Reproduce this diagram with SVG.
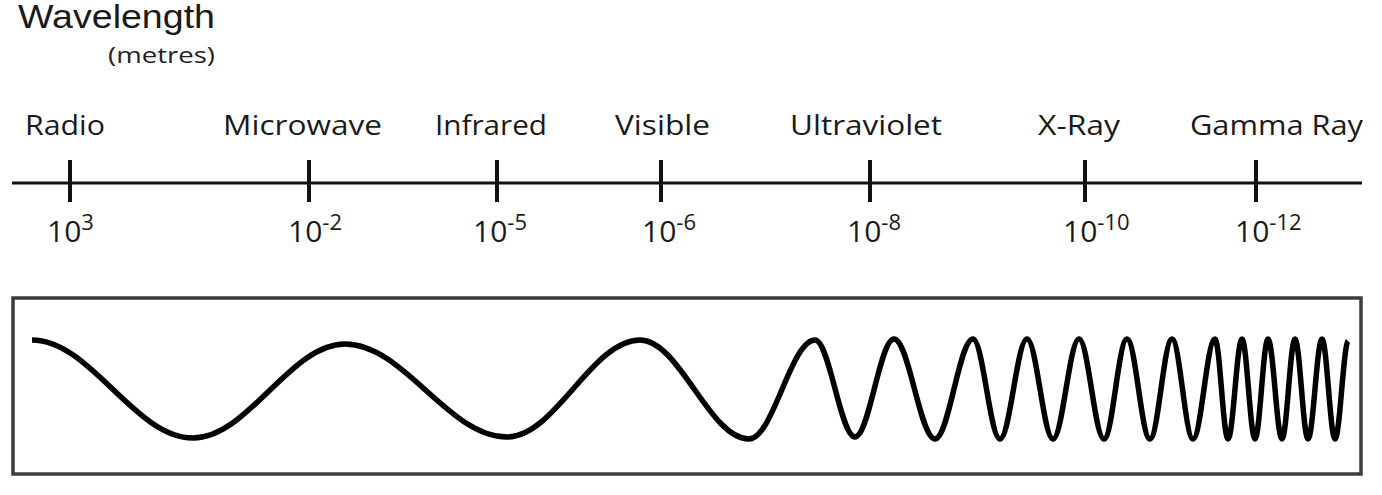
<svg xmlns="http://www.w3.org/2000/svg" width="1382" height="495" viewBox="0 0 1382 495">
  <style>
    .title { font-family: "Liberation Sans", Arial, sans-serif; font-size: 33px; fill: #1a1a1a; }
    .unit { font-family: "Open Sans", "Noto Sans", sans-serif; font-size: 22px; fill: #222; }
    .lbl { font-family: "Open Sans", "Noto Sans", sans-serif; font-size: 28px; fill: #1a1a1a; }
    .num { font-family: "Open Sans", "Noto Sans", sans-serif; font-size: 30px; fill: #1a1a1a; }
    .sup { font-size: 22px; }
    .axis { stroke: #111; stroke-width: 3; fill: none; }
    .tick { stroke: #111; stroke-width: 4; fill: none; }
    .box { stroke: #3c3c3c; stroke-width: 3.5; fill: #fff; }
    .wave { stroke: #000; stroke-width: 5.5; fill: none; stroke-linecap: butt; stroke-linejoin: round; }
  </style>
  <rect width="1382" height="495" fill="#fff"/>

  <g id="title">
    <text class="title" x="18" y="28" textLength="197" lengthAdjust="spacingAndGlyphs">Wavelength</text>
    <text class="unit" x="108" y="63" textLength="107" lengthAdjust="spacingAndGlyphs">(metres)</text>
  </g>

  <g id="axis">
    <line class="axis" x1="12" y1="183" x2="1362" y2="183"/>
  </g>

  <g id="radio">
    <line class="tick" x1="70" y1="160" x2="70" y2="202"/>
    <text class="lbl" x="25" y="135" textLength="80" lengthAdjust="spacingAndGlyphs">Radio</text>
    <text class="num" x="47" y="242">10<tspan class="sup" y="230">3</tspan></text>
  </g>
  <g id="microwave">
    <line class="tick" x1="309" y1="160" x2="309" y2="202"/>
    <text class="lbl" x="223" y="135" textLength="159" lengthAdjust="spacingAndGlyphs">Microwave</text>
    <text class="num" x="288" y="242">10<tspan class="sup" y="230">-2</tspan></text>
  </g>
  <g id="infrared">
    <line class="tick" x1="497" y1="160" x2="497" y2="202"/>
    <text class="lbl" x="435" y="135" textLength="112" lengthAdjust="spacingAndGlyphs">Infrared</text>
    <text class="num" x="473" y="242">10<tspan class="sup" y="230">-5</tspan></text>
  </g>
  <g id="visible">
    <line class="tick" x1="661" y1="160" x2="661" y2="202"/>
    <text class="lbl" x="615" y="135" textLength="95" lengthAdjust="spacingAndGlyphs">Visible</text>
    <text class="num" x="642" y="242">10<tspan class="sup" y="230">-6</tspan></text>
  </g>
  <g id="ultraviolet">
    <line class="tick" x1="870" y1="160" x2="870" y2="202"/>
    <text class="lbl" x="790" y="135" textLength="152" lengthAdjust="spacingAndGlyphs">Ultraviolet</text>
    <text class="num" x="847" y="242">10<tspan class="sup" y="230">-8</tspan></text>
  </g>
  <g id="xray">
    <line class="tick" x1="1085" y1="160" x2="1085" y2="202"/>
    <text class="lbl" x="1038" y="135" textLength="82" lengthAdjust="spacingAndGlyphs">X-Ray</text>
    <text class="num" x="1063" y="242">10<tspan class="sup" y="230">-10</tspan></text>
  </g>
  <g id="gamma">
    <line class="tick" x1="1256" y1="160" x2="1256" y2="202"/>
    <text class="lbl" x="1190" y="135" textLength="173" lengthAdjust="spacingAndGlyphs">Gamma Ray</text>
    <text class="num" x="1235" y="242">10<tspan class="sup" y="230">-12</tspan></text>
  </g>

  <g id="wave-panel">
    <rect class="box" x="13" y="298" width="1348" height="176"/>
    <path class="wave" d="M32,340
      C90.5,340 134.5,438 193,438
      C248.2,438 289.8,344 345,344
      C403.9,344 448.1,437 507,437
      C555.3,437 591.7,340 640,340
      C679.6,340 709.4,439 749,439
      C773,439 791,340 815,340
      C829.5,340 840.5,437 855,437
      C869.2,437 879.8,339 894,339
      C908.9,339 920.1,439 935,439
      C948.8,439 959.2,339 973,339
      C982.8,339 990.2,439 1000,439
      C1009.8,439 1017.2,339 1027,339
      C1036.4,339 1043.6,439 1053,439
      C1062.4,439 1069.6,339 1079,339
      C1088.1,339 1094.9,439 1104,439
      C1112.4,439 1118.6,339 1127,339
      C1135.4,339 1141.6,439 1150,439
      C1158,439 1164,339 1172,339
      C1179.6,339 1185.4,439 1193,439
      C1201,439 1207,339 1215,339
      C1219.7,339 1223.3,439 1228,439
      C1233.1,439 1236.9,339 1242,339
      C1246.7,339 1250.3,439 1255,439
      C1259.7,439 1263.3,339 1268,339
      C1273.1,339 1276.9,439 1282,439
      C1286.7,439 1290.3,339 1295,339
      C1299.7,339 1303.3,439 1308,439
      C1313.1,439 1316.9,339 1322,339
      C1326.7,339 1330.3,439 1335,439
      C1339.7,439 1343.3,346 1348,341"/>
  </g>
</svg>
